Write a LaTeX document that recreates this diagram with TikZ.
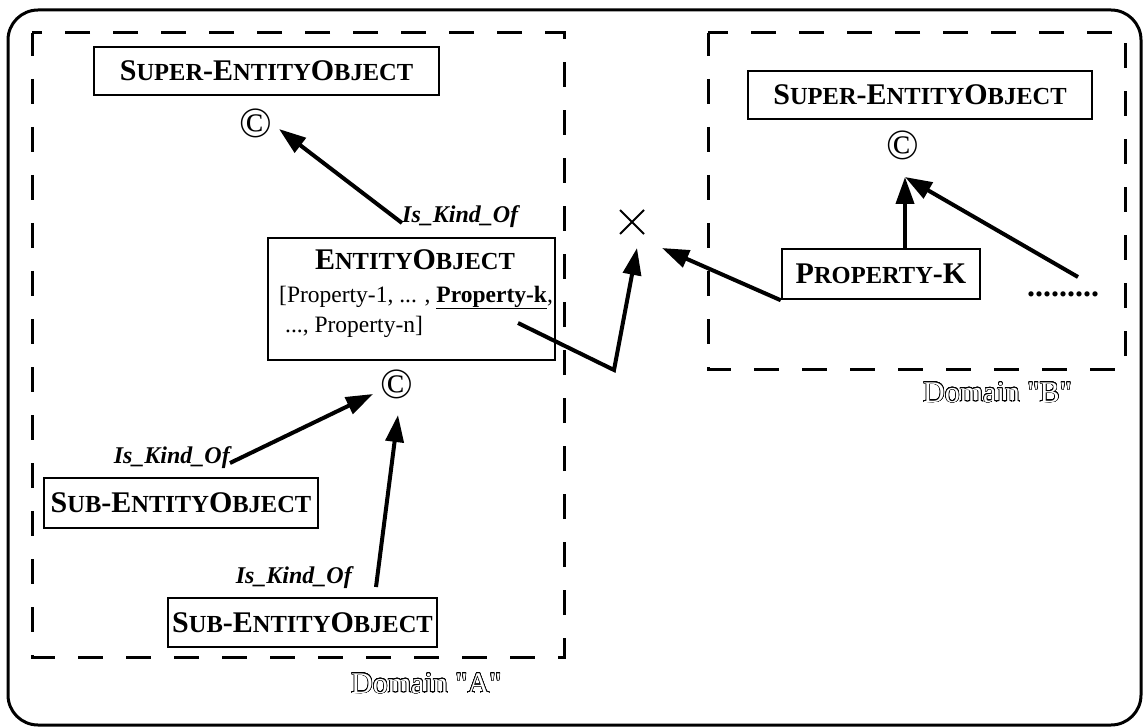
\documentclass[tikz,border=0pt]{standalone}
\usepackage{fontspec}
\setmainfont{Liberation Serif}
% same face without TeX input ligatures, so " stays a straight quote
\newfontfamily\domfont{Liberation Serif}
\usepackage{contour}
\usetikzlibrary{arrows.meta,shapes.misc}

% bold small capitals built from two sizes
\newcommand\capB[1]{{\fontsize{30}{36}\selectfont #1}}
\newcommand\capS[1]{{\fontsize{24.5}{30}\selectfont #1}}
\contourlength{0.55pt}
\contournumber{24}

\tikzset{
  frame/.style={draw, line width=3pt, rounded corners=30pt},
  dombox/.style={draw, line width=3pt, dash pattern=on 25pt off 23pt, dash phase=2pt},
  objbox/.style={draw, line width=2.5pt, inner sep=0pt, font=\bfseries},
  cmark/.style={inner sep=0pt, font=\fontsize{43}{43}\selectfont},
  kindlbl/.style={font=\fontsize{24}{28}\selectfont\bfseries\itshape, inner sep=0pt, anchor=base west},
  proptxt/.style={font=\fontsize{23.5}{28}\selectfont, inner sep=0pt, anchor=base west},
  arr/.style={line width=4pt, -{Triangle[length=27pt,width=18pt]}},
  domlbl/.style={font=\domfont\fontsize{30}{36}\selectfont, inner sep=0pt, anchor=base west},
}

\begin{document}
\begin{tikzpicture}[x=1pt,y=-1pt]
\useasboundingbox (0,0) rectangle (1143,727);

% outer frame and the two domains
\draw[frame] (8,10) rectangle (1141,725);
\draw[dombox] (32,33) rectangle (564,657);
\draw[dombox] (708,33) rectangle (1125,369);
\node[domlbl] (domA) at (351,693) {\contour{black}{\textcolor{white}{Domain "A"}}};
\node[domlbl] (domB) at (923,402) {\contour{black}{\textcolor{white}{Domain "B"}}};

% domain A
\node[objbox, minimum width=345pt, minimum height=48pt] (supA) at (266.5,71)
  {\capB{S}\capS{UPER}\capB{-E}\capS{NTITY}\capB{O}\capS{BJECT}};
\node[cmark] (cA) at (256,123) {\textcopyright};
\node[kindlbl] (kA) at (402,223) {Is\_Kind\_Of};
\coordinate (tA) at (279,129);

\node[objbox, minimum width=287pt, minimum height=122pt] (ent) at (411.5,299) {};
\node[font=\bfseries, inner sep=0pt, anchor=base] (entT) at (415,270)
  {\capB{E}\capS{NTITY}\capB{O}\capS{BJECT}};
\node[proptxt] (entP1) at (279,302) {[Property-1, ... , \underline{\textbf{Property-k}},};
\node[proptxt] (entP2) at (285,332) {..., Property-n]};
\coordinate (pkfoot) at (518,323);
\coordinate (bend) at (614,370);

\node[cmark] (cM) at (397,384) {\textcopyright};
\coordinate (tM1) at (373,394);
\coordinate (tM2) at (398,415);

\node[objbox, minimum width=274pt, minimum height=50pt] (sub1) at (181,503)
  {\capB{S}\capS{UB}\capB{-E}\capS{NTITY}\capB{O}\capS{BJECT}};
\node[kindlbl, anchor=base east] (k1) at (230,463) {Is\_Kind\_Of};

\node[objbox, minimum width=269pt, minimum height=49pt] (sub2) at (302.5,622.5)
  {\capB{S}\capS{UB}\capB{-E}\capS{NTITY}\capB{O}\capS{BJECT}};
\node[kindlbl, anchor=base east] (k2) at (352,583) {Is\_Kind\_Of};
\coordinate (s2top) at (376,587);

% the cross between the domains
\node[draw, cross out, line width=2pt, minimum size=22pt, inner sep=0pt] (xm) at (632,222) {};
\coordinate (xinA) at (637,248);
\coordinate (xinB) at (662,248);

% domain B
\node[objbox, minimum width=344pt, minimum height=48pt] (supB) at (920,95)
  {\capB{S}\capS{UPER}\capB{-E}\capS{NTITY}\capB{O}\capS{BJECT}};
\node[cmark] (cB) at (903,145) {\textcopyright};
\coordinate (cBin) at (905,177);
\node[objbox, minimum width=198pt, minimum height=50pt] (propK) at (881,274)
  {\capB{P}\capS{ROPERTY}\capB{-K}};
\node[font=\fontsize{32}{32}\selectfont\bfseries, inner sep=0pt, anchor=base west] (more) at (1027,297) {.........};
\coordinate (moreTop) at (1078,277);

% connectors
\draw[arr] (kA.base west) -- (tA);
\draw[arr] (k1.base east) -- (tM1);
\draw[arr] (s2top) -- (tM2);
\draw[arr] (pkfoot) -- (bend) -- (xinA);
\draw[arr] (propK.south west) -- (xinB);
\draw[arr] (propK.north -| cBin) -- (cBin);
\draw[arr] (moreTop) -- (cBin);
\end{tikzpicture}
\end{document}
